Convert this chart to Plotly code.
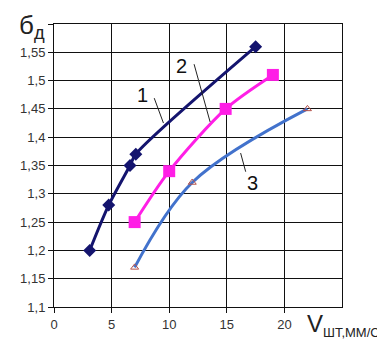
import plotly.graph_objects as go

# Series data
x1 = [3.1, 4.75, 6.6, 7.1, 17.5]
y1 = [1.20, 1.28, 1.35, 1.37, 1.56]

x2 = [7.0, 10.0, 14.9, 19.0]
y2 = [1.25, 1.34, 1.45, 1.51]

x3 = [7.0, 12.0, 22.0]
y3 = [1.17, 1.32, 1.45]

x_ticks = [0, 5, 10, 15, 20]
x_tick_labels = ["0", "5", "10", "15", "20"]
y_ticks = [1.1, 1.15, 1.2, 1.25, 1.3, 1.35, 1.4, 1.45, 1.5, 1.55]
y_tick_labels = ["1,1", "1,15", "1,2", "1,25", "1,3", "1,35", "1,4", "1,45", "1,5", "1,55"]

curve_labels = ["1", "2", "3"]

fig = go.Figure()
fig.add_trace(go.Scatter(
    x=x1, y=y1, mode="lines+markers",
    line=dict(color="#14146e", width=3, shape="spline", smoothing=0.8),
    marker=dict(symbol="diamond", size=10, color="#14146e"),
))
fig.add_trace(go.Scatter(
    x=x2, y=y2, mode="lines+markers",
    line=dict(color="#ff1ee6", width=3, shape="spline", smoothing=0.8),
    marker=dict(symbol="square", size=12, color="#ff1ee6"),
))
fig.add_trace(go.Scatter(
    x=x3, y=y3, mode="lines+markers",
    line=dict(color="#4272cc", width=3, shape="spline", smoothing=1.0),
    marker=dict(symbol="triangle-up-open", size=7, color="#b5524a", line=dict(width=1)),
))

# curve number labels with leader lines (in data coords)
lab_pos = [(7.67, 1.475), (11.1, 1.526), (17.2, 1.319)]
lead = [((8.7, 1.469), (9.5, 1.425)), ((12.16, 1.529), (13.55, 1.427)),
        ((16.2, 1.372), (16.64, 1.339))]
for t, (lx, ly), ((ax0, ay0), (ax1, ay1)) in zip(curve_labels, lab_pos, lead):
    fig.add_annotation(x=lx, y=ly, text=t, showarrow=False,
                       font=dict(size=20, color="#111111", family="Liberation Sans, Arial"))
    fig.add_shape(type="line", x0=ax0, y0=ay0, x1=ax1, y1=ay1,
                  line=dict(color="#222222", width=1))

fig.add_annotation(xref="paper", yref="paper", x=-0.13, y=1.055, xanchor="left", yanchor="top",
                   text="б<sub>д</sub>", showarrow=False,
                   font=dict(size=26, color="#222222", family="Liberation Sans, Arial"))
fig.add_annotation(xref="paper", yref="paper", x=0.87, y=-0.005, xanchor="left", yanchor="top",
                   text="V<sub><span style='font-size:13px'>ШТ,ММ/С</span></sub>", showarrow=False,
                   font=dict(size=24, color="#222222", family="Liberation Sans, Arial"))

fig.update_layout(
    width=377, height=336,
    margin=dict(l=44, r=43, t=16, b=37),
    paper_bgcolor="white", plot_bgcolor="white",
    showlegend=False,
    font=dict(family="Liberation Sans, Arial", size=13, color="#333333"),
)
fig.update_xaxes(range=[0, 25], tickvals=x_ticks, ticktext=x_tick_labels,
                 showgrid=True, gridcolor="#111111", gridwidth=1,
                 showline=True, linecolor="#111111", mirror=True,
                 ticks="outside", ticklen=5, tickcolor="#111111", zeroline=False)
fig.update_xaxes(minor=dict(showgrid=True, gridcolor="#111111", tickvals=[25]))
fig.update_yaxes(range=[1.1, 1.6], tickvals=y_ticks + [1.6], ticktext=y_tick_labels + [""],
                 showgrid=True, gridcolor="#111111", gridwidth=1,
                 showline=True, linecolor="#111111", mirror=True,
                 ticks="outside", ticklen=5, tickcolor="#111111", zeroline=False)

fig.write_html("out.html")
